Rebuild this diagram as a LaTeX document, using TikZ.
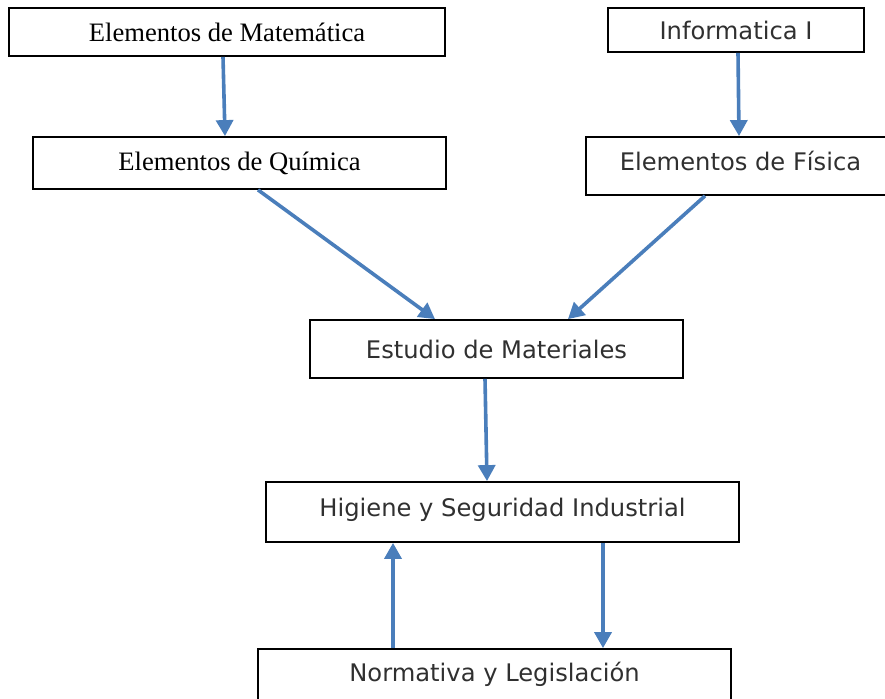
\documentclass[tikz,border=0pt]{standalone}
\usepackage{fontspec}
\setmainfont{Liberation Serif}
\newfontfamily\boxsans{DejaVu Sans}
\usetikzlibrary{arrows.meta}
\definecolor{arrblue}{HTML}{4A7EBB}
\definecolor{txtgray}{HTML}{303030}
\begin{document}
\begin{tikzpicture}[x=1pt,y=-1pt,
  boxbase/.style={draw=black, line width=1.8pt, rectangle, inner sep=0pt, fill=white},
  serifbox/.style={boxbase, font=\fontsize{26.6}{30}\selectfont},
  sansbox/.style={boxbase, font=\boxsans\fontsize{24.2}{28}\selectfont, text=txtgray},
  arr/.style={draw=arrblue, line width=3.6pt, -{Triangle[length=16pt,width=17pt]}}]
\useasboundingbox (0,0) rectangle (885,698);
\node[serifbox, minimum width=436pt, minimum height=48pt] (m) at (227,32) {Elementos de Matemática};
\node[serifbox, minimum width=413pt, minimum height=52pt] (q) at (239.5,163) {Elementos de Química};
\node[sansbox, minimum width=256pt, minimum height=44pt] (i) at (736,30) {Informatica I};
\node[sansbox, minimum width=309pt, minimum height=58pt, text depth=10pt] (f) at (740.5,166) {Elementos de Física};
\node[sansbox, minimum width=373pt, minimum height=58pt] (e) at (496.5,349) {Estudio de Materiales};
\node[sansbox, minimum width=473pt, minimum height=60pt, text depth=9pt] (h) at (502.5,512) {Higiene y Seguridad Industrial};
\node[sansbox, minimum width=473pt, minimum height=60pt, text depth=15pt] (n) at (494.5,679) {Normativa y Legislación};
\draw[arr] ([xshift=-4pt]m.south) -- ([xshift=-14.5pt]q.north);
\draw[arr] ([xshift=2pt]i.south) -- ([xshift=-1.5pt]f.north);
\draw[arr] ([xshift=18.5pt]q.south) -- ([xshift=-61.5pt]e.north);
\draw[arr] ([xshift=-35.5pt]f.south) -- ([xshift=71.5pt]e.north);
\draw[arr] ([xshift=-11.5pt]e.south) -- ([xshift=-15.5pt]h.north);
\draw[arr] ([xshift=-101.5pt]n.north) -- ([xshift=-109.5pt]h.south);
\draw[arr] ([xshift=100.5pt]h.south) -- ([xshift=108.5pt]n.north);
\end{tikzpicture}
\end{document}
